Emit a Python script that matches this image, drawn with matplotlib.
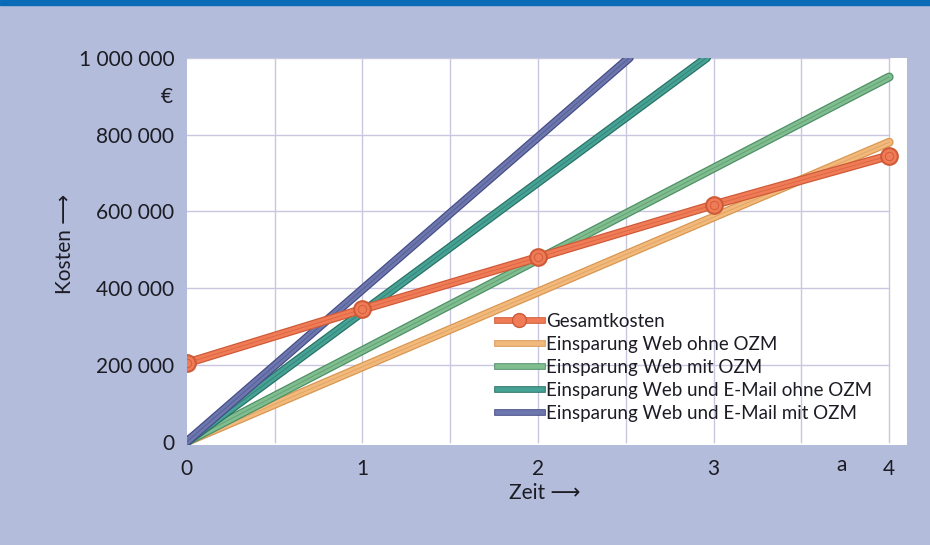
import matplotlib
matplotlib.use('Agg')
import matplotlib.pyplot as plt
from matplotlib.lines import Line2D
from matplotlib.legend_handler import HandlerTuple

plt.rcParams['font.family'] = ['Lato', 'DejaVu Sans']

# Kosten und Einsparungen in Euro über die Zeit (Jahre)
jahre = [0, 1, 2, 3, 4]
gesamtkosten = [205000, 345000, 480000, 617000, 745000]

web_ohne_x = [0, 4]
web_ohne = [0, 780000]
web_mit_x = [0, 4]
web_mit = [0, 950000]
mail_ohne_x = [0, 2.96]
mail_ohne = [0, 1000000]
mail_mit_x = [0, 2.52]
mail_mit = [0, 1000000]

y_ticks = [0, 200000, 400000, 600000, 800000, 1000000]
y_labels = ['0', '200 000', '400 000', '600 000', '800 000', '1 000 000']
x_ticks = [0, 1, 2, 3, 4]

bg = '#b3bcda'
ink = '#1c1c24'
fig = plt.figure(figsize=(9.3, 5.45), dpi=100, facecolor=bg)
ax = fig.add_axes([0.201, 0.184, 0.774, 0.710])
ax.set_facecolor('white')

# Gitter nur bis x = 4
for yv in y_ticks[1:]:
    ax.plot([0, 4], [yv, yv], color='#c9c6df', lw=1.0, zorder=1)
for xv in [0.5, 1, 1.5, 2, 2.5, 3, 3.5, 4]:
    ax.plot([xv, xv], [0, 1000000], color='#c9c6df', lw=1.0, zorder=1)


def tube(x, y, mid, dark, z):
    ax.plot(x, y, color=dark, lw=6.4, solid_capstyle='round', zorder=z)
    ax.plot(x, y, color=mid, lw=4.6, solid_capstyle='round', zorder=z)
    ax.plot(x, y, color=dark, lw=0.7, solid_capstyle='round', zorder=z, alpha=0.6)


series = [
    ('Einsparung Web ohne OZM', web_ohne_x, web_ohne, '#f2b97c', '#d99752'),
    ('Einsparung Web mit OZM', web_mit_x, web_mit, '#80bd8f', '#4f9067'),
    ('Einsparung Web und E-Mail ohne OZM', mail_ohne_x, mail_ohne, '#45a294', '#2a7266'),
    ('Einsparung Web und E-Mail mit OZM', mail_mit_x, mail_mit, '#6d77ad', '#454e88'),
]
for i, (name, xs, ys, mid, dark) in enumerate(series):
    tube(xs, ys, mid, dark, 3 + i)

# Gesamtkosten mit Punkten
tube(jahre, gesamtkosten, '#f07c57', '#cf5a38', 8)
ax.plot(jahre, gesamtkosten, 'o', ms=12, mfc='#f07c57', mec='#cf5a38', mew=1.5, zorder=9)
ax.plot(jahre, gesamtkosten, 'o', ms=6, mfc='none', mec='#d4603e', mew=0.8, zorder=10)

ax.set_xlim(0, 4.1)
ax.set_ylim(-8000, 1000000)
ax.set_xticks(x_ticks)
ax.set_yticks(y_ticks)
ax.set_yticklabels(y_labels)
ax.tick_params(length=0, labelsize=15, colors=ink)
ax.tick_params(axis='y', pad=9)
ax.tick_params(axis='x', pad=10)
for s in ax.spines.values():
    s.set_visible(False)

fig.text(0.186, 0.822, '€', ha='right', va='center', fontsize=15, color=ink)
fig.text(0.905, 0.147, 'a', ha='center', va='center', fontsize=15, color=ink)
fig.text(0.07, 0.552, 'Kosten ⟶', rotation=90, ha='center', va='center', fontsize=15,
         color=ink)
fig.text(0.586, 0.095, 'Zeit ⟶', ha='center', va='center', fontsize=15, color=ink)

# Kopfleiste
fig.patches.append(plt.Rectangle((0, 0.99), 1, 0.01, transform=fig.transFigure,
                                 color='#0a6cb6', zorder=0))

handles = []
labels = []
h_gk = (Line2D([], [], color='#cf5a38', lw=4.8),
        Line2D([], [], color='#f07c57', lw=3.4),
        Line2D([], [], marker='o', ms=10, mfc='#f07c57', mec='#cf5a38', ls='none'))
handles.append(h_gk)
labels.append('Gesamtkosten')
for name, xs, ys, mid, dark in series:
    handles.append((Line2D([], [], color=dark, lw=4.8), Line2D([], [], color=mid, lw=3.4)))
    labels.append(name)

fig.legend(handles, labels, loc='upper left', bbox_to_anchor=(0.534, 0.426),
           frameon=False, fontsize=13.5, handlelength=2.4, handletextpad=0.25,
           labelspacing=0.32, borderaxespad=0, borderpad=0, labelcolor=ink,
           handler_map={tuple: HandlerTuple(ndivide=1, pad=0)})

fig.savefig('out.png', dpi=100, facecolor=bg)
